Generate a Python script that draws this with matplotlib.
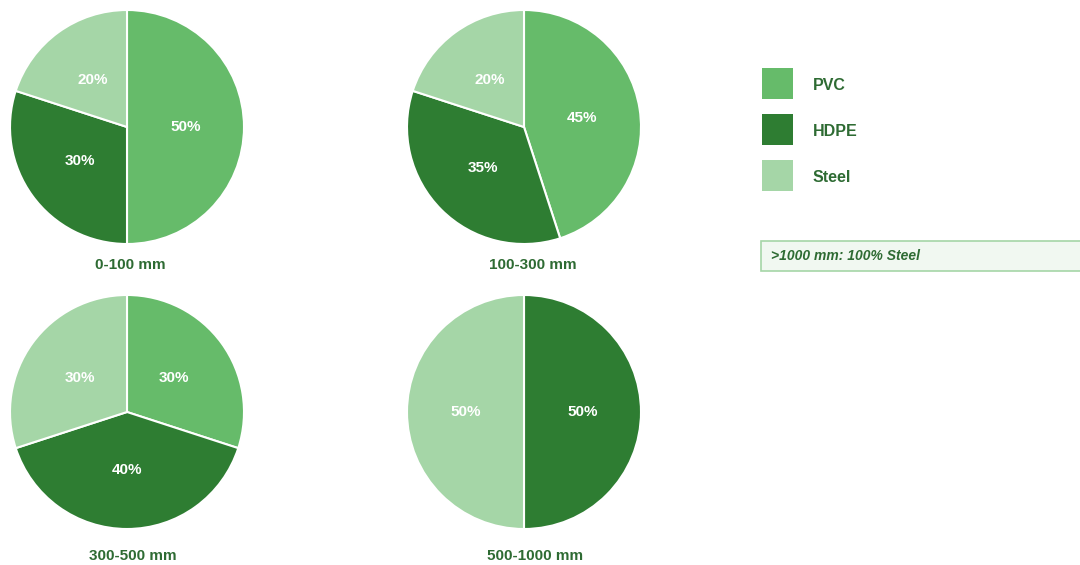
import matplotlib.pyplot as plt
from matplotlib.patches import Rectangle

# Datos: participación de materiales por rango de diámetro
materiales = ["PVC", "HDPE", "Steel"]
colores = ["#66bb6a", "#2e7d32", "#a5d6a7"]
rangos = ["0-100 mm", "100-300 mm", "300-500 mm", "500-1000 mm"]
pvc = [50, 45, 30, 0]
hdpe = [30, 35, 40, 50]
steel = [20, 20, 30, 50]
nota = ">1000 mm: 100% Steel"

plt.rcParams['font.family'] = ['Liberation Sans', 'DejaVu Sans']
W, H = 1080, 565
fig = plt.figure(figsize=(W / 100, H / 100), dpi=100)

# centros de cada pie (px) y radio
centros = [(127, 127), (524, 127), (127, 412), (524, 412)]
r = 117
texto_verde = "#2e6b33"

for i, rango in enumerate(rangos):
    cx, cy = centros[i]
    ax = fig.add_axes([(cx - r) / W, (H - cy - r) / H, 2 * r / W, 2 * r / H])
    valores = [pvc[i], hdpe[i], steel[i]]
    ax.pie(valores, colors=colores, startangle=90, counterclock=False,
           radius=1, labeldistance=None, pctdistance=0.5,
           autopct=lambda p: f"{p:.0f}%" if p > 0.5 else "",
           wedgeprops=dict(edgecolor="white", linewidth=1.5),
           textprops=dict(color="white", fontsize=11, fontweight="bold"))
    ax.set_xlim(-1, 1)
    ax.set_ylim(-1, 1)
    ax.set_aspect("auto")
    ax.axis("off")

# capa de anotaciones en pixeles
over = fig.add_axes([0, 0, 1, 1], zorder=-1)
over.set_xlim(0, W)
over.set_ylim(H, 0)
over.axis("off")

posiciones_titulo = [(130, 265), (533, 265), (133, 556), (535, 556)]
for (x, y), rango in zip(posiciones_titulo, rangos):
    over.text(x, y, rango, ha="center", va="center", fontsize=11,
              fontweight="bold", color=texto_verde)

# leyenda
for j, (mat, col) in enumerate(zip(materiales, colores)):
    y0 = 68 + j * 46
    over.add_patch(Rectangle((762, y0), 31, 31, facecolor=col, edgecolor="none"))
    over.text(813, y0 + 17, mat, ha="left", va="center", fontsize=11.5,
              fontweight="bold", color=texto_verde)

# nota
over.add_patch(Rectangle((761, 241), 330, 30, facecolor="#f1f8f1",
                         edgecolor="#a5d6a7", linewidth=1.2))
over.text(771, 256, nota, ha="left", va="center", fontsize=10,
          fontweight="bold", fontstyle="italic", color=texto_verde)

fig.savefig("out.png", dpi=100)
